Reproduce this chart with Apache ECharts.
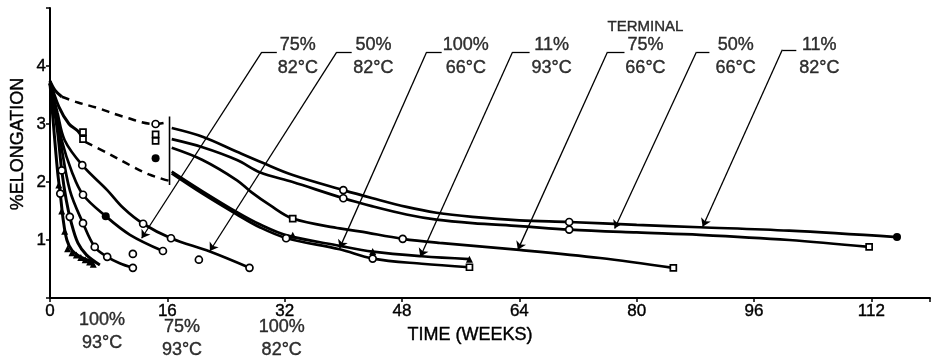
<!DOCTYPE html>
<html><head><meta charset="utf-8">
<script src="https://cdn.jsdelivr.net/npm/echarts@6/dist/echarts.min.js"></script>
<style>html,body{margin:0;padding:0;background:#fff}#c{width:933px;height:357px}</style>
</head><body><div id="c"></div>
<script>
// ---- axis ----
const xTicks = [0, 16, 32, 48, 64, 80, 96, 112];
const yTicks = [1, 2, 3, 4];

// ---- curves: [week, %elongation] ----
const c100_93 = [[0,3.7],[0.4,3.1],[0.8,2.5],[1.1,2.1],[1.4,1.8],[1.8,1.35],[2.3,1.0],[3.0,0.82],[4.0,0.72],[5.0,0.66],[6.0,0.6]];
const c75_93  = [[0,3.7],[1,2.9],[1.6,2.2],[2.2,1.7],[2.9,1.3],[3.8,0.95],[5.0,0.74],[6.8,0.57]];
const c100_82 = [[0,3.7],[1.4,2.72],[2.7,1.86],[4.5,1.29],[6.1,0.88],[7.8,0.71],[9.5,0.6],[11.3,0.52]];
const c75_82  = [[0,3.7],[1.6,2.72],[3,2.17],[4.5,1.78],[7.6,1.41],[10.9,1.09],[15.4,0.81]];
const c50_82  = [[0,3.7],[1,3.2],[2,2.72],[4.4,2.29],[7.8,1.86],[10,1.55],[12.7,1.28],[16.5,1.03],[21.8,0.8],[27.2,0.52]];
const c11_82  = [[16.6,2.93],[20.8,2.78],[25.5,2.52],[29,2.33],[33.1,2.12],[40,1.86],[44,1.72],[48.6,1.57],[52.7,1.47],[57.6,1.40],[64,1.34],[70.8,1.31],[80,1.26],[88.6,1.22],[100.8,1.16],[115.5,1.05]];
const c50_66  = [[16.6,2.74],[20.8,2.6],[25.5,2.38],[28.6,2.17],[33.1,2.0],[40,1.72],[44,1.58],[48.6,1.44],[52.7,1.35],[57.6,1.29],[64,1.24],[70.8,1.18],[80,1.13],[88.6,1.09],[100.8,1.0],[111.7,0.88]];
const c75_66  = [[16.6,2.59],[20.8,2.38],[25.5,2.03],[27.5,1.82],[30,1.6],[33.1,1.37],[39.5,1.2],[42.2,1.15],[48.1,1.02],[53.1,0.95],[64,0.83],[75,0.69],[85,0.52]];
const c11_93  = [[16.6,2.18],[20.8,1.84],[25.5,1.48],[28.6,1.27],[32.3,1.08],[39.5,0.9],[44,0.8],[50.7,0.72],[57.2,0.67]];
const c100_66 = [[16.6,2.15],[20.8,1.8],[25.5,1.44],[28.6,1.22],[32.3,1.03],[39.5,0.84],[44,0.68],[50.7,0.59],[57.2,0.53]];

// ---- early (0-5 wk) stems of the long-term curves ----
const stemUpper = [[0,3.74],[0.7,3.58],[1.6,3.47]];
const stemLower = [[0,3.74],[1.2,3.3],[2.6,3.0],[3.8,2.88],[4.8,2.69]];

// ---- dashed envelope and bracket ----
const envUpper = [[1.6,3.47],[3.8,3.37],[6.4,3.28],[9.9,3.13],[14.3,3.0],[16.3,3.04]];
const envLower = [[4.8,2.69],[7.8,2.5],[10.9,2.29],[13.5,2.13],[15.4,2.05],[16.3,2.02]];
const bracket  = [[16.3,3.13],[16.3,1.95]];

// ---- markers ----
const openCircles = [[4.4,2.29],[12.7,1.28],[16.5,1.03],[27.2,0.52],[4.5,1.78],[15.4,0.81],[4.5,1.29],[6.1,0.88],[7.8,0.71],[11.3,0.52],
  [11.3,0.76],[20.3,0.66],[14.4,3.0],[1.6,2.2],[1.4,1.8],[2.7,1.4],[40,1.86],[40,1.72],[70.8,1.31],[70.8,1.18],[48.1,1.02],[32.2,1.03],[44,0.68]];
const openSquares = [[4.5,2.86],[4.5,2.74],[14.4,2.82],[14.4,2.71],[33.1,1.37],[85,0.52],[111.7,0.88],[57.2,0.53]];
const filledDots  = [[7.6,1.41],[14.4,2.41],[115.5,1.05]];
const triangles   = [[1.2,1.95],[1.6,1.5],[2.0,1.15],[2.4,0.85],[3.0,0.78],[3.6,0.74],[4.2,0.7],[4.8,0.66],[5.4,0.62],[5.9,0.58],[33.1,1.08],[44,0.8],[57.2,0.67]];

// ---- labels: [text, week, value] ----
const topLabels = [
  ['75%\n82°C', 33.8, 4.16], ['50%\n82°C', 44.1, 4.16], ['100%\n66°C', 56.7, 4.16], ['11%\n93°C', 68.4, 4.16],
  ['75%\n66°C', 81.2, 4.16], ['50%\n66°C', 93.5, 4.16], ['11%\n82°C', 104.9, 4.16]
];
const terminalLabel = ['TERMINAL', 81.2, 4.67];
const bottomLabels = [['100%\n93°C', 7.1, -0.58], ['75%\n93°C', 18.0, -0.70], ['100%\n82°C', 31.6, -0.70]];

// ---- leader lines: [corner, textEnd, arrowTip] ----
const leaders = [
  [[28.88,4.24],[30.93,4.24],[12.5,1.03]],
  [[39.1,4.24],[41.14,4.24],[21.8,0.81]],
  [[51.36,4.24],[53.41,4.24],[39.5,0.86]],
  [[63.08,4.24],[65.4,4.24],[50.5,0.71]],
  [[76.02,4.24],[78.34,4.24],[63.8,0.83]],
  [[88.15,4.24],[89.92,4.24],[77.0,1.2]],
  [[99.86,4.28],[101.77,4.28],[89.0,1.23]],
  [[2.45,-0.6],[3.68,-0.6],[3.15,0.53]],
  [[14.03,-0.6],[15.4,-0.6],[6.6,0.56]],
  [[26.98,-0.6],[28.34,-0.6],[12.1,0.48]]
];

const INK = '#000';
const FONT = '"Liberation Sans", Arial, sans-serif';
const chart = echarts.init(document.getElementById('c'), null, {renderer: 'canvas'});

function curve(data, dashed, w) {
  return { type: 'line', data: data, smooth: 0.35, showSymbol: false, symbol: 'none', clip: false, z: 3,
    lineStyle: { color: INK, width: w || (dashed ? 2.5 : 2.7), type: dashed ? [8, 6] : 'solid', opacity: 1 } };
}
const mk = (data, symbol, size, fill, bw) => ({ type: 'scatter', data: data, symbol: symbol, symbolSize: size, z: 5,
  itemStyle: { color: fill, borderColor: INK, borderWidth: bw, opacity: 1 } });
const series = [
  curve(c100_93, false, 3), curve(c75_93, false, 3), curve(c100_82), curve(c75_82), curve(c50_82),
  curve(c11_82), curve(c50_66), curve(c75_66), curve(c11_93), curve(c100_66),
  curve(stemUpper, false, 3), curve(stemLower, false, 3),
  curve(envUpper, true), curve(envLower, true),
  { type: 'line', data: bracket, showSymbol: false, symbol: 'none', lineStyle: { color: INK, width: 1.6 } },
  mk(openCircles, 'circle', 7, '#fff', 1.7),
  mk(openSquares, 'rect', 6, '#fff', 1.7),
  mk(filledDots, 'circle', 8, INK, 0),
  mk(triangles, 'triangle', 7, INK, 0)
];
// leader lines via markLine
const mlData = [];
leaders.forEach(l => {
  mlData.push([{ coord: l[0], symbol: 'none' }, { coord: l[1], symbol: 'none' }]);
  mlData.push([{ coord: l[0], symbol: 'none' }, { coord: l[2], symbol: 'arrow', symbolSize: 8 }]);
});
series.push({ type: 'line', data: [], clip: false, z: 4,
  markLine: { silent: true, animation: false, clip: false, symbol: ['none', 'arrow'], symbolSize: 8, label: { show: false },
    lineStyle: { color: INK, width: 1.3, type: 'solid', opacity: 1 }, emphasis: { disabled: true }, data: mlData } });
// text labels
const lbl = (arr, size) => ({ type: 'scatter', clip: false, symbolSize: 0, z: 6,
  data: arr.map(a => ({ value: [a[1], a[2]], name: a[0] })),
  label: { show: true, position: 'inside', formatter: p => p.name, color: INK, fontFamily: FONT,
    fontSize: size, lineHeight: 23, align: 'center', verticalAlign: 'middle', textBorderColor: INK, textBorderWidth: 0.4 } });
series.push(lbl(topLabels, 18), lbl(bottomLabels, 18), lbl([terminalLabel], 15));

const axisLbl = { color: INK, fontFamily: FONT, fontSize: 17, textBorderColor: INK, textBorderWidth: 0.4 };
chart.setOption({
  animation: false,
  backgroundColor: '#fff',
  grid: { left: 50, right: 3, top: 8, bottom: 59 },
  xAxis: { type: 'value', min: 0, max: 120, interval: 16,
    axisLine: { lineStyle: { color: INK, width: 2 } },
    axisTick: { show: true, length: 4, lineStyle: { color: INK, width: 1.5 } },
    splitLine: { show: false },
    axisLabel: Object.assign({ margin: 5, formatter: v => xTicks.indexOf(v) >= 0 ? String(v) : '' }, axisLbl) },
  yAxis: { type: 'value', min: 0, max: 5, interval: 1,
    axisLine: { show: true, lineStyle: { color: INK, width: 2 } },
    axisTick: { show: true, length: 4, lineStyle: { color: INK, width: 1.5 } },
    splitLine: { show: false },
    axisLabel: Object.assign({ margin: 4, formatter: v => yTicks.indexOf(v) >= 0 ? String(v) : '' }, axisLbl) },
  graphic: [
    { type: 'text', x: 18, y: 144, rotation: Math.PI / 2,
      style: { text: '%ELONGATION', fill: INK, font: '18px ' + FONT, textAlign: 'center', textVerticalAlign: 'middle', stroke: INK, lineWidth: 0.4 } },
    { type: 'text', x: 470, y: 335,
      style: { text: 'TIME (WEEKS)', fill: INK, font: '18px ' + FONT, textAlign: 'center', textVerticalAlign: 'middle', stroke: INK, lineWidth: 0.4 } }
  ],
  series: series
});
</script></body></html>
